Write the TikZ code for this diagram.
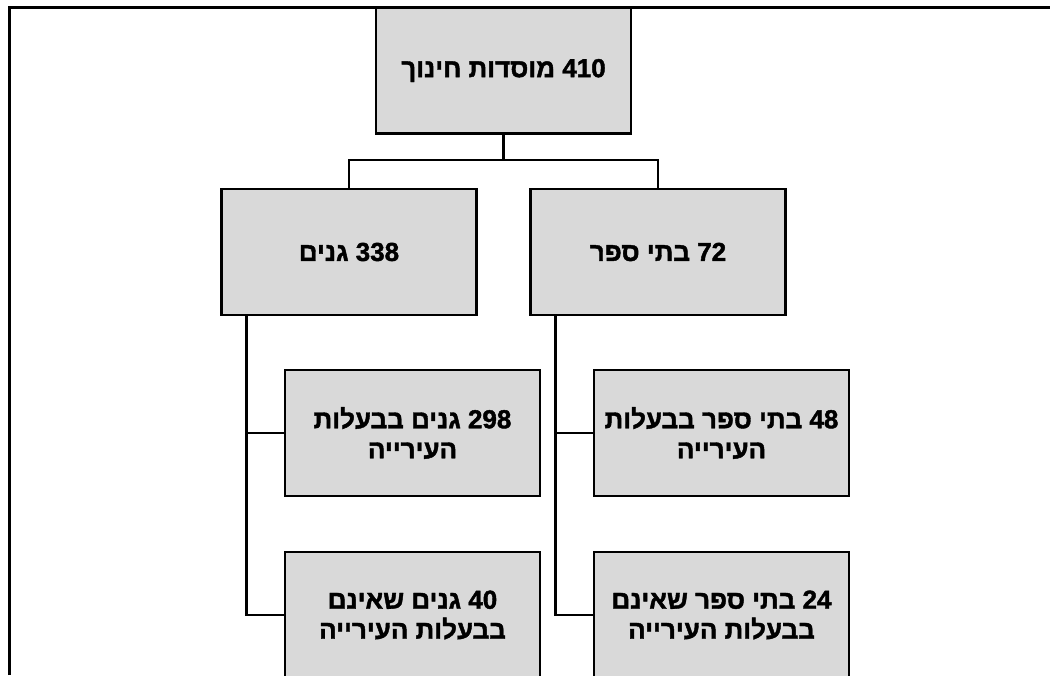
\documentclass[tikz,border=0pt]{standalone}
\usepackage{fontspec}
\newfontfamily\hebfont[Script=Hebrew, BoldFeatures={FakeBold=1.6}]{Liberation Sans}
\TeXXeTstate=1
\definecolor{boxgray}{RGB}{217,217,217}
\tikzset{
  orgbox/.style={draw=black, line width=2.5pt, fill=boxgray, minimum width=255pt, minimum height=126pt,
    inner sep=0pt, align=center, font=\hebfont\bfseries\fontsize{26}{30}\selectfont},
  conn/.style={line width=2.5pt},
  frame/.style={line width=3pt}
}
\begin{document}
\begin{tikzpicture}[x=1pt,y=-1pt]
\useasboundingbox (0,0) rectangle (1050,675);
\clip (0,0) rectangle (1050,675);
% outer frame (top and left sides)
\coordinate (fl) at (9.5,675);
\coordinate (fc) at (9.5,7.5);
\coordinate (fr) at (1052,7.5);
\draw[frame] (fl) -- (fc) -- (fr);
% boxes
\node[orgbox] (top) at (503.5,70.5) {\beginR\beginL410\endL{} מוסדות חינוך\endR};
\node[orgbox] (gan) at (349,252) {\beginR\beginL338\endL{} גנים\endR};
\node[orgbox] (sch) at (658,252) {\beginR\beginL72\endL{} בתי ספר\endR};
\node[orgbox] (gan1) at (412.5,433) {\beginR\beginL298\endL{} גנים בבעלות\endR\\\beginR העירייה\endR};
\node[orgbox] (gan2) at (412.5,615) {\beginR\beginL40\endL{} גנים שאינם\endR\\\beginR בבעלות העירייה\endR};
\node[orgbox] (sch1) at (721.5,433) {\beginR\beginL48\endL{} בתי ספר בבעלות\endR\\\beginR העירייה\endR};
\node[orgbox] (sch2) at (721.5,615) {\beginR\beginL24\endL{} בתי ספר שאינם\endR\\\beginR בבעלות העירייה\endR};
% connectors
\draw[conn] (top.south) -- ++(0,25) coordinate (j) -| (gan.north);
\draw[conn] (j) -| (sch.north);
\coordinate (ga) at ([xshift=26pt]gan.south west);
\draw[conn] (ga) |- (gan1.west);
\draw[conn] (ga) |- (gan2.west);
\coordinate (sa) at ([xshift=26pt]sch.south west);
\draw[conn] (sa) |- (sch1.west);
\draw[conn] (sa) |- (sch2.west);
\end{tikzpicture}
\end{document}
